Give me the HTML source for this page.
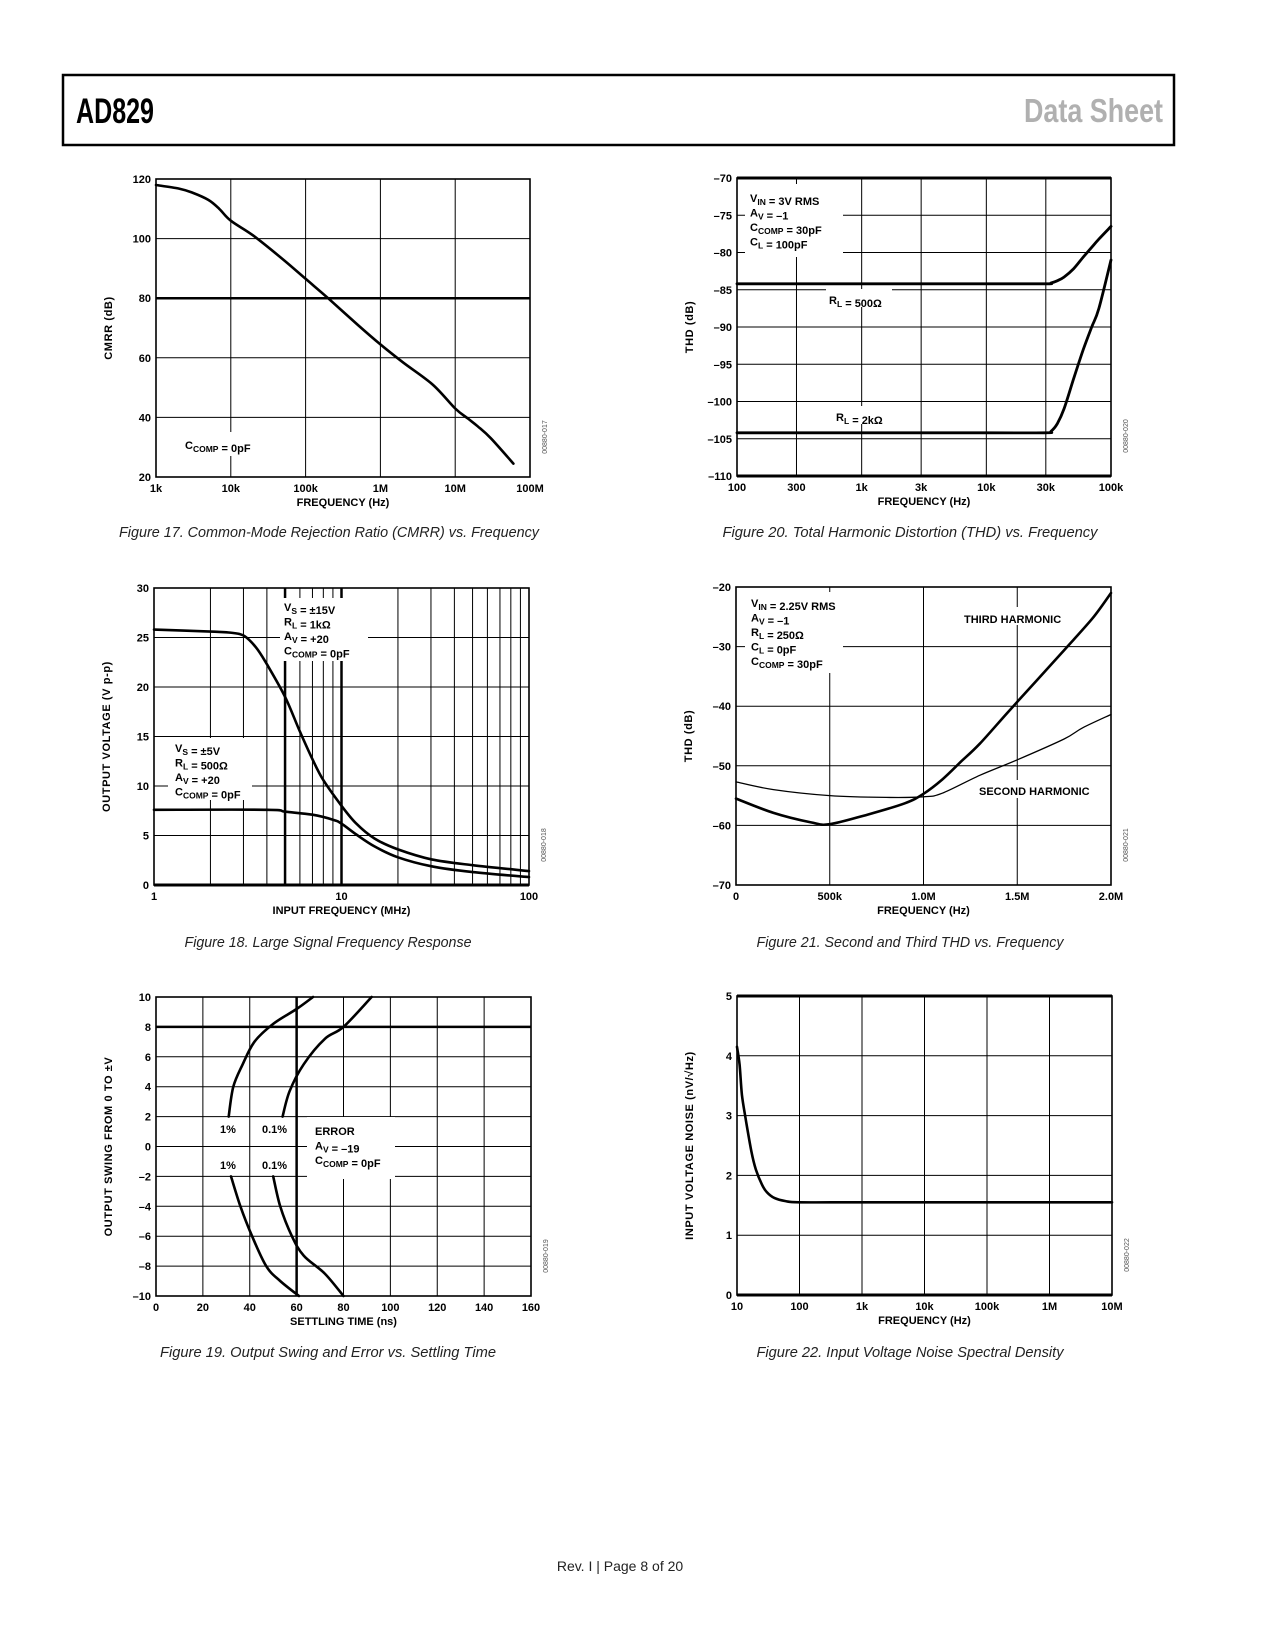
<!DOCTYPE html>
<html><head><meta charset="utf-8"><title>AD829 Data Sheet page 8</title>
<style>
html,body{margin:0;padding:0;background:#fff;}
svg{display:block;font-family:"Liberation Sans",sans-serif;}
.tk{font-size:11px;font-weight:bold;fill:#000;}
.at{font-size:11px;font-weight:bold;fill:#000;}
.an{font-size:11px;font-weight:bold;fill:#000;}
.cap{font-size:15px;font-style:italic;fill:#222;}
.code{font-size:7px;fill:#555;}
</style></head>
<body>
<svg id="page" width="1275" height="1650" viewBox="0 0 1275 1650" xmlns="http://www.w3.org/2000/svg">
<rect x="63" y="75" width="1111" height="70" fill="none" stroke="#000" stroke-width="2.5"/>
<text x="76" y="123" font-family="'Liberation Sans Narrow','Liberation Sans',sans-serif" font-weight="bold" font-size="35" textLength="78" lengthAdjust="spacingAndGlyphs">AD829</text>
<text x="1024" y="122" font-family="'Liberation Sans Narrow','Liberation Sans',sans-serif" font-weight="bold" font-size="33" fill="#b0b0b0" textLength="139" lengthAdjust="spacingAndGlyphs">Data Sheet</text>

<g id="c1"></g>
<g id="c2"></g>
<g id="c3"></g>
<g id="c4"></g>
<g id="c5"></g>
<g id="c6"></g>

<text class="cap" x="329" y="537" text-anchor="middle" textLength="420" lengthAdjust="spacingAndGlyphs">Figure 17. Common-Mode Rejection Ratio (CMRR) vs. Frequency</text>
<text class="cap" x="910" y="537" text-anchor="middle" textLength="375" lengthAdjust="spacingAndGlyphs">Figure 20. Total Harmonic Distortion (THD) vs. Frequency</text>
<text class="cap" x="328" y="947" text-anchor="middle" textLength="287" lengthAdjust="spacingAndGlyphs">Figure 18. Large Signal Frequency Response</text>
<text class="cap" x="910" y="947" text-anchor="middle" textLength="307" lengthAdjust="spacingAndGlyphs">Figure 21. Second and Third THD vs. Frequency</text>
<text class="cap" x="328" y="1357" text-anchor="middle" textLength="336" lengthAdjust="spacingAndGlyphs">Figure 19. Output Swing and Error vs. Settling Time</text>
<text class="cap" x="910" y="1357" text-anchor="middle" textLength="307" lengthAdjust="spacingAndGlyphs">Figure 22. Input Voltage Noise Spectral Density</text>
<text x="620" y="1571" text-anchor="middle" font-size="14" fill="#222">Rev. I | Page 8 of 20</text>
</svg>
<script>
// ---------- Data ----------
// Fig 17 CMRR
const cmrrFreq = [1e3, 2e3, 3e3, 5e3, 7e3, 1e4, 2e4, 5e4, 1e5, 2e5, 5e5, 1e6, 2e6, 5e6, 1e7, 1.5e7, 2e7, 3e7, 6e7];
const cmrrDb   = [118, 116.8, 115.5, 113, 110, 106, 101, 93, 86.5, 80, 71, 64.5, 58.5, 51, 43, 39.5, 37, 33, 24.5];
const cmrrYTicks = [20, 40, 60, 80, 100, 120];
const cmrrXTicks = [1e3, 1e4, 1e5, 1e6, 1e7, 1e8];
const cmrrXLabels = ["1k", "10k", "100k", "1M", "10M", "100M"];
// Fig 20 THD
const thdFreq   = [100, 1000, 10000, 30000, 33000, 37000, 42000, 50000, 60000, 70000, 80000, 100000];
const thd500    = [-84.2, -84.2, -84.2, -84.2, -84.1, -83.8, -83.3, -82.2, -80.6, -79.3, -78.2, -76.5];
const thd2k     = [-104.2, -104.2, -104.2, -104.2, -104.0, -103.0, -101.0, -97.0, -93.0, -90.0, -87.5, -81.0];
const thdYTicks = [-110, -105, -100, -95, -90, -85, -80, -75, -70];
const thdXTicks = [100, 300, 1000, 3000, 10000, 30000, 100000];
const thdXLabels = ["100", "300", "1k", "3k", "10k", "30k", "100k"];
// Fig 18 Large signal
const lsFreq15 = [1, 2, 2.5, 3, 3.5, 4, 5, 6, 7, 8, 10, 12, 15, 20, 30, 50, 100];
const ls15     = [25.8, 25.6, 25.5, 25.2, 24.0, 22.3, 19.0, 15.5, 12.7, 10.6, 8.0, 6.2, 4.7, 3.6, 2.6, 2.0, 1.4];
const lsFreq5  = [1, 4, 5, 7, 9, 10, 12, 15, 20, 30, 50, 100];
const ls5      = [7.6, 7.6, 7.4, 7.1, 6.6, 6.2, 5.1, 3.9, 2.8, 1.9, 1.3, 0.8];
const lsYTicks = [0, 5, 10, 15, 20, 25, 30];
const lsXTicks = [1, 10, 100];
const lsXLabels = ["1", "10", "100"];
// Fig 21 Harmonics
const hFreq3 = [0, 2e5, 4e5, 5e5, 7e5, 9e5, 1.0e6, 1.1e6, 1.2e6, 1.3e6, 1.45e6, 1.6e6, 1.75e6, 1.9e6, 2.0e6];
const hThird = [-55.5, -57.9, -59.5, -59.8, -58.2, -56.3, -54.7, -52.3, -49.3, -46.3, -41.0, -35.8, -30.6, -25.3, -21.0];
const hFreq2 = [0, 2e5, 5e5, 8e5, 1.0e6, 1.1e6, 1.3e6, 1.5e6, 1.75e6, 1.85e6, 2.0e6];
const hSecond = [-52.7, -54.0, -55.0, -55.3, -55.2, -54.6, -51.6, -49.0, -45.5, -43.6, -41.4];
const hYTicks = [-70, -60, -50, -40, -30, -20];
const hXTicks = [0, 5e5, 1e6, 1.5e6, 2e6];
const hXLabels = ["0", "500k", "1.0M", "1.5M", "2.0M"];
// Fig 19 Settling
const stUp1T = [31, 33, 37, 42, 50, 60, 67];
const stUp1V = [2, 4, 5.5, 7, 8.2, 9.2, 10];
const stUp01T = [54, 57, 63, 72, 80, 92];
const stUp01V = [2, 3.7, 5.5, 7.2, 8, 10];
const stLo1T = [32, 36, 41, 47, 53, 61];
const stLo1V = [-2, -4, -6, -8, -9, -10];
const stLo01T = [50, 53, 58, 63, 72, 80];
const stLo01V = [-2, -4, -6, -7.3, -8.5, -10];
const stYTicks = [-10, -8, -6, -4, -2, 0, 2, 4, 6, 8, 10];
const stXTicks = [0, 20, 40, 60, 80, 100, 120, 140, 160];
// Fig 22 Noise
const nFreq = [10, 11, 12, 14, 17, 20, 25, 30, 40, 60, 100, 1e3, 1e5, 1e7];
const nVal  = [4.15, 3.85, 3.35, 2.9, 2.4, 2.1, 1.85, 1.72, 1.62, 1.57, 1.55, 1.55, 1.55, 1.55];
const nYTicks = [0, 1, 2, 3, 4, 5];
const nXTicks = [10, 100, 1e3, 1e4, 1e5, 1e6, 1e7];
const nXLabels = ["10", "100", "1k", "10k", "100k", "1M", "10M"];

// ---------- helpers ----------
const NS = "http://www.w3.org/2000/svg";
function mk(parent, tag, attrs) {
  const e = document.createElementNS(NS, tag);
  for (const k in attrs) e.setAttribute(k, attrs[k]);
  parent.appendChild(e);
  return e;
}
function scales(b) {
  const sx = b.logx
    ? v => b.x0 + (Math.log10(v) - Math.log10(b.xmin)) / (Math.log10(b.xmax) - Math.log10(b.xmin)) * (b.x1 - b.x0)
    : v => b.x0 + (v - b.xmin) / (b.xmax - b.xmin) * (b.x1 - b.x0);
  const sy = v => b.y1 - (v - b.ymin) / (b.ymax - b.ymin) * (b.y1 - b.y0);
  return [sx, sy];
}
function smoothPath(pts) {
  let d = "M" + pts[0][0].toFixed(1) + "," + pts[0][1].toFixed(1);
  for (let i = 0; i < pts.length - 1; i++) {
    const p0 = pts[Math.max(0, i - 1)], p1 = pts[i], p2 = pts[i + 1], p3 = pts[Math.min(pts.length - 1, i + 2)];
    const c1 = [p1[0] + (p2[0] - p0[0]) / 6, p1[1] + (p2[1] - p0[1]) / 6];
    const c2 = [p2[0] - (p3[0] - p1[0]) / 6, p2[1] - (p3[1] - p1[1]) / 6];
    d += "C" + c1[0].toFixed(1) + "," + c1[1].toFixed(1) + " " + c2[0].toFixed(1) + "," + c2[1].toFixed(1) + " " + p2[0].toFixed(1) + "," + p2[1].toFixed(1);
  }
  return d;
}
function curve(g, sx, sy, xs, ys, w, name) {
  const pts = xs.map((x, i) => [sx(x), sy(ys[i])]);
  const p = mk(g, "path", {d: smoothPath(pts), fill: "none", stroke: "#000", "stroke-width": w, "stroke-linejoin": "round", "stroke-linecap": "round"});
  
  
}
function frame(g, b, opt) {
  const [sx, sy] = scales(b);
  opt.vgrid.forEach(v => {
    const x = sx(v);
    const l = mk(g, "line", {x1: x, x2: x, y1: b.y0, y2: b.y1, stroke: "#000", "stroke-width": (opt.vthick || []).includes(v) ? 2.5 : 1});
    
    
  });
  opt.yTicks.forEach(v => {
    const y = sy(v);
    const l = mk(g, "line", {x1: b.x0, x2: b.x1, y1: y, y2: y, stroke: "#000", "stroke-width": (opt.hthick || []).includes(v) ? 2.5 : 1});
    
    
    const t = mk(g, "text", {x: b.x0 - 5, y: y + 4, "text-anchor": "end", class: "tk"});
    t.textContent = String(v).replace("-", "\u2013");
    
    
  });
  opt.xTicks.forEach((v, i) => {
    const t = mk(g, "text", {x: sx(v), y: b.y1 + 15, "text-anchor": "middle", class: "tk"});
    t.textContent = opt.xLabels ? opt.xLabels[i] : String(v);
    
    
  });
  const xt = mk(g, "text", {x: (b.x0 + b.x1) / 2, y: b.y1 + 29, "text-anchor": "middle", class: "at"});
  xt.textContent = opt.xTitle;
  
  
  const yx = b.x0 - 44, yy = (b.y0 + b.y1) / 2;
  const yt = mk(g, "text", {x: yx, y: yy, "text-anchor": "middle", class: "at", transform: "rotate(-90 " + yx + " " + yy + ")", "letter-spacing": "0.6"});
  yt.textContent = opt.yTitle;
  
  
  const cx = b.x1 + 17, cy = b.y1 - 40;
  const ct = mk(g, "text", {x: cx, y: cy, "text-anchor": "middle", class: "code", transform: "rotate(-90 " + cx + " " + cy + ")"});
  ct.textContent = opt.code;
  
  
  return [sx, sy];
}
function border(g, b, topW, botW) {
  const r = mk(g, "rect", {x: b.x0, y: b.y0, width: b.x1 - b.x0, height: b.y1 - b.y0, fill: "none", stroke: "#000", "stroke-width": 1.6});
  
  
  if (topW) { const l = mk(g, "line", {x1: b.x0, x2: b.x1, y1: b.y0, y2: b.y0, stroke: "#000", "stroke-width": topW});   }
  if (botW) { const l = mk(g, "line", {x1: b.x0, x2: b.x1, y1: b.y1, y2: b.y1, stroke: "#000", "stroke-width": botW});   }
}
function whiteBox(g, x, y, w, h) {
  const r = mk(g, "rect", {x: x, y: y, width: w, height: h, fill: "#fff"});
  
  
}
function label(g, x, y, parts, name, anchor) {
  const t = mk(g, "text", {x: x, y: y, class: "an", "text-anchor": anchor || "start"});
  
  
  parts.forEach(p => {
    const s = mk(t, "tspan", p[1] ? {"font-size": "8.5", dy: "3"} : {dy: p[2] || "0"});
    s.textContent = p[0];
    if (p[1]) { const r = mk(t, "tspan", {dy: "-3"}); r.textContent = ""; }
  });
}
function block(g, x, y, lines, step, name) {
  lines.forEach((ln, i) => label(g, x, y + i * step, ln, name));
}

// ---------- Chart 1 ----------
(function () {
  const g = document.getElementById("c1");
  const b = {x0: 156, x1: 530, y0: 179, y1: 477, logx: true, xmin: 1e3, xmax: 1e8, ymin: 20, ymax: 120};
  const [sx, sy] = frame(g, b, {vgrid: [1e4, 1e5, 1e6, 1e7], yTicks: cmrrYTicks, hthick: [80], xTicks: cmrrXTicks, xLabels: cmrrXLabels, xTitle: "FREQUENCY (Hz)", yTitle: "CMRR (dB)", code: "00880-017"});
  whiteBox(g, 180, 432, 88, 24);
  border(g, b);
  curve(g, sx, sy, cmrrFreq, cmrrDb, 2.6, "cmrr-curve");
  label(g, 185, 449, [["C"], ["COMP", 1], [" = 0pF"]], "ccomp-label");
})();

// ---------- Chart 2 ----------
(function () {
  const g = document.getElementById("c2");
  const b = {x0: 737, x1: 1111, y0: 178, y1: 476, logx: true, xmin: 100, xmax: 1e5, ymin: -110, ymax: -70};
  const [sx, sy] = frame(g, b, {vgrid: [300, 1000, 3000, 10000, 30000], yTicks: thdYTicks, xTicks: thdXTicks, xLabels: thdXLabels, xTitle: "FREQUENCY (Hz)", yTitle: "THD (dB)", code: "00880-020"});
  whiteBox(g, 745, 184, 98, 73);
  whiteBox(g, 826, 289, 66, 18);
  whiteBox(g, 833, 406, 62, 18);
  border(g, b, 3, 3);
  curve(g, sx, sy, thdFreq, thd500, 2.8, "rl-500-curve");
  curve(g, sx, sy, thdFreq, thd2k, 2.8, "rl-2k-curve");
  block(g, 750, 202, [[["V"], ["IN", 1], [" = 3V RMS"]], [["A"], ["V", 1], [" = \u20131"]], [["C"], ["COMP", 1], [" = 30pF"]], [["C"], ["L", 1], [" = 100pF"]]], 14.5, "test-conditions");
  label(g, 829, 304, [["R"], ["L", 1], [" = 500\u03a9"]], "rl-500-label");
  label(g, 836, 421, [["R"], ["L", 1], [" = 2k\u03a9"]], "rl-2k-label");
})();

// ---------- Chart 3 ----------
(function () {
  const g = document.getElementById("c3");
  const b = {x0: 154, x1: 529, y0: 588, y1: 885, logx: true, xmin: 1, xmax: 100, ymin: 0, ymax: 30};
  const vg = [2, 3, 4, 5, 6, 7, 8, 9, 10, 20, 30, 40, 50, 60, 70, 80, 90];
  const [sx, sy] = frame(g, b, {vgrid: vg, vthick: [5, 10], yTicks: lsYTicks, xTicks: lsXTicks, xLabels: lsXLabels, xTitle: "INPUT FREQUENCY (MHz)", yTitle: "OUTPUT VOLTAGE (V p-p)", code: "00880-018"});
  whiteBox(g, 280, 598, 88, 63);
  whiteBox(g, 168, 738, 84, 62);
  border(g, b, 0, 3);
  curve(g, sx, sy, lsFreq15, ls15, 2.6, "vs-15v-curve");
  curve(g, sx, sy, lsFreq5, ls5, 2.6, "vs-5v-curve");
  block(g, 284, 611, [[["V"], ["S", 1], [" = \u00b115V"]], [["R"], ["L", 1], [" = 1k\u03a9"]], [["A"], ["V", 1], [" = +20"]], [["C"], ["COMP", 1], [" = 0pF"]]], 14.5, "vs-15v-conditions");
  block(g, 175, 752, [[["V"], ["S", 1], [" = \u00b15V"]], [["R"], ["L", 1], [" = 500\u03a9"]], [["A"], ["V", 1], [" = +20"]], [["C"], ["COMP", 1], [" = 0pF"]]], 14.5, "vs-5v-conditions");
})();

// ---------- Chart 4 ----------
(function () {
  const g = document.getElementById("c4");
  const b = {x0: 736, x1: 1111, y0: 587, y1: 885, logx: false, xmin: 0, xmax: 2e6, ymin: -70, ymax: -20};
  const [sx, sy] = frame(g, b, {vgrid: [5e5, 1e6, 1.5e6], yTicks: hYTicks, xTicks: hXTicks, xLabels: hXLabels, xTitle: "FREQUENCY (Hz)", yTitle: "THD (dB)", code: "00880-021"});
  whiteBox(g, 745, 592, 98, 81);
  whiteBox(g, 958, 607, 120, 18);
  whiteBox(g, 974, 780, 132, 18);
  border(g, b);
  curve(g, sx, sy, hFreq3, hThird, 2.6, "third-harmonic-curve");
  curve(g, sx, sy, hFreq2, hSecond, 1.3, "second-harmonic-curve");
  block(g, 751, 607, [[["V"], ["IN", 1], [" = 2.25V RMS"]], [["A"], ["V", 1], [" = \u20131"]], [["R"], ["L", 1], [" = 250\u03a9"]], [["C"], ["L", 1], [" = 0pF"]], [["C"], ["COMP", 1], [" = 30pF"]]], 14.5, "test-conditions");
  label(g, 964, 623, [["THIRD HARMONIC"]], "third-harmonic-label");
  label(g, 979, 795, [["SECOND HARMONIC"]], "second-harmonic-label");
})();

// ---------- Chart 5 ----------
(function () {
  const g = document.getElementById("c5");
  const b = {x0: 156, x1: 531, y0: 997, y1: 1296, logx: false, xmin: 0, xmax: 160, ymin: -10, ymax: 10};
  const [sx, sy] = frame(g, b, {vgrid: [20, 40, 60, 80, 100, 120, 140], vthick: [60], yTicks: stYTicks, hthick: [8], xTicks: stXTicks, xTitle: "SETTLING TIME (ns)", yTitle: "OUTPUT SWING FROM 0 TO \u00b1V", code: "00880-019"});
  whiteBox(g, 307, 1117, 88, 62);
  whiteBox(g, 214, 1122, 22, 14); whiteBox(g, 257, 1122, 34, 14);
  whiteBox(g, 214, 1158, 22, 14); whiteBox(g, 257, 1158, 34, 14);
  border(g, b);
  curve(g, sx, sy, stUp1T, stUp1V, 2.6, "upper-1pct-curve");
  curve(g, sx, sy, stUp01T, stUp01V, 2.6, "upper-0.1pct-curve");
  curve(g, sx, sy, stLo1T, stLo1V, 2.6, "lower-1pct-curve");
  curve(g, sx, sy, stLo01T, stLo01V, 2.6, "lower-0.1pct-curve");
  label(g, 220, 1133, [["1%"]], "upper-1pct-label");
  label(g, 262, 1133, [["0.1%"]], "upper-0.1pct-label");
  label(g, 220, 1169, [["1%"]], "lower-1pct-label");
  label(g, 262, 1169, [["0.1%"]], "lower-0.1pct-label");
  block(g, 315, 1135, [[["ERROR"]], [["A"], ["V", 1], [" = \u201319"]], [["C"], ["COMP", 1], [" = 0pF"]]], 14.5, "error-conditions");
})();

// ---------- Chart 6 ----------
(function () {
  const g = document.getElementById("c6");
  const b = {x0: 737, x1: 1112, y0: 996, y1: 1295, logx: true, xmin: 10, xmax: 1e7, ymin: 0, ymax: 5};
  const [sx, sy] = frame(g, b, {vgrid: [100, 1e3, 1e4, 1e5, 1e6], yTicks: nYTicks, xTicks: nXTicks, xLabels: nXLabels, xTitle: "FREQUENCY (Hz)", yTitle: "INPUT VOLTAGE NOISE (nV/\u221aHz)", code: "00880-022"});
  border(g, b, 3, 3);
  curve(g, sx, sy, nFreq, nVal, 2.6, "noise-curve");
})();
</script>
</body></html>
